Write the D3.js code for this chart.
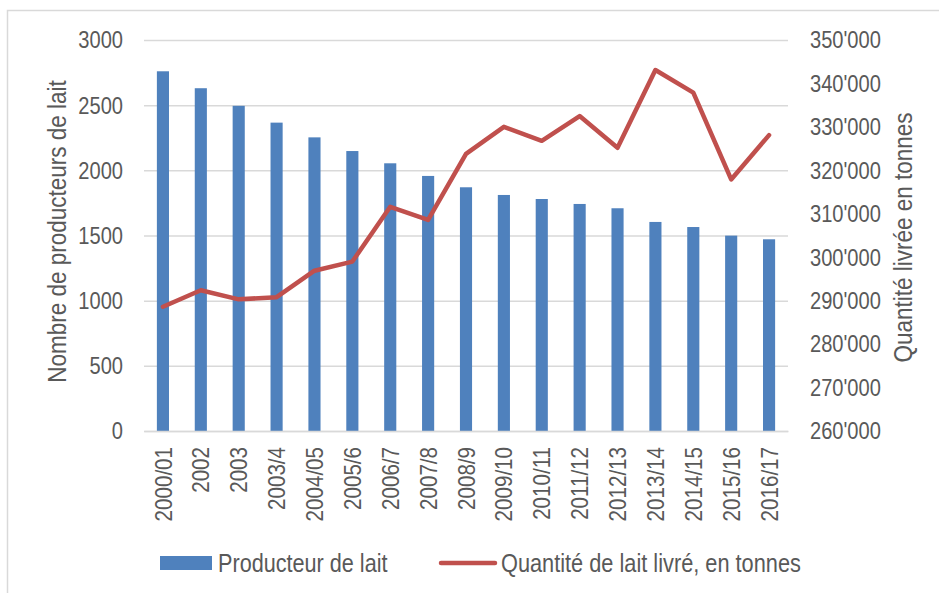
<!DOCTYPE html>
<html><head><meta charset="utf-8">
<script src="https://cdnjs.cloudflare.com/ajax/libs/d3/7.8.5/d3.min.js"></script>
<style>
body{margin:0;background:#fff;}
text{font-family:"Liberation Sans Narrow","Arial Narrow","Liberation Sans",Arial,sans-serif;fill:#595959;}
</style></head>
<body><svg id="chart" width="939" height="593"></svg>
<script>
const categories = ["2000/01","2002","2003","2003/4","2004/05","2005/6","2006/7","2007/8","2008/9","2009/10","2010/11","2011/12","2012/13","2013/14","2014/15","2015/16","2016/17"];
const producers = [2760,2630,2495,2366,2253,2148,2054,1957,1870,1811,1780,1742,1709,1604,1565,1499,1471];
const quantity = [288600,292400,290300,290800,296900,299000,311600,308600,323800,330000,326800,332500,325200,343100,337900,317900,328100];
const leftTicks = [0,500,1000,1500,2000,2500,3000];
const rightTicks = [260000,270000,280000,290000,300000,310000,320000,330000,340000,350000];
const seriesNames = ["Producteur de lait","Quantité de lait livré, en tonnes"];
const leftTitle = "Nombre de producteurs de lait";
const rightTitle = "Quantité livrée en tonnes";

const svg = d3.select("#chart");
const m = {left:144, right:788, top:40, bottom:431};
const fs = 24.5;

function condense(sel, k){
  sel.each(function(){
    const len = this.getComputedTextLength();
    if (len > 0) d3.select(this).attr("textLength", len*k).attr("lengthAdjust","spacingAndGlyphs");
  });
}

svg.append("rect").attr("x",7.5).attr("y",10.5).attr("width",1000).attr("height",1000)
  .attr("fill","none").attr("stroke","#D9D9D9").attr("stroke-width",1.5);

const x = d3.scaleBand().domain(categories).range([m.left,m.right]).paddingInner(0.68).paddingOuter(0.34);
const yL = d3.scaleLinear().domain([0,3000]).range([m.bottom,m.top]);
const yR = d3.scaleLinear().domain([260000,350000]).range([m.bottom,m.top]);

// gridlines
const gGrid = svg.append("g").attr("transform",`translate(${m.left},0)`)
  .call(d3.axisLeft(yL).tickValues(leftTicks).tickSize(-(m.right-m.left)).tickFormat(""));
gGrid.select(".domain").remove();
gGrid.selectAll("line").attr("stroke","#D9D9D9").attr("stroke-width",1.5);

// bars
svg.append("g").selectAll("rect").data(producers).join("rect")
  .attr("x",(d,i)=>x(categories[i])).attr("width",x.bandwidth())
  .attr("y",d=>yL(d)).attr("height",d=>yL(0)-yL(d)).attr("fill","#4F81BD");

// bottom axis
const gx = svg.append("g").attr("transform",`translate(0,${m.bottom})`)
  .call(d3.axisBottom(x).tickSize(0).tickPadding(0));
gx.select(".domain").attr("stroke","#D9D9D9").attr("stroke-width",1.5);
gx.selectAll("text").attr("font-size",fs).attr("fill","#595959")
  .attr("transform","rotate(-90)").attr("text-anchor","end")
  .attr("x",-16).attr("y",0).attr("dy","0.35em");
condense(gx.selectAll("text"), 0.84);

// left axis
const gl = svg.append("g").attr("transform",`translate(${m.left},0)`)
  .call(d3.axisLeft(yL).tickValues(leftTicks).tickSize(0).tickPadding(21).tickFormat(d3.format("d")));
gl.select(".domain").remove();
gl.selectAll("text").attr("font-size",fs).attr("fill","#595959");
condense(gl.selectAll("text"), 0.82);

// right axis
const fmtR = d => d3.format("d")(d/1000) + "'000";
const gr = svg.append("g").attr("transform",`translate(${m.right},0)`)
  .call(d3.axisRight(yR).tickValues(rightTicks).tickSize(0).tickPadding(22).tickFormat(fmtR));
gr.select(".domain").remove();
gr.selectAll("text").attr("font-size",fs).attr("fill","#595959");
condense(gr.selectAll("text"), 0.82);

// line
const line = d3.line().x((d,i)=>x(categories[i])+x.bandwidth()/2).y(d=>yR(d));
svg.append("path").datum(quantity).attr("d",line).attr("fill","none")
  .attr("stroke","#C0504D").attr("stroke-width",4.5).attr("stroke-linejoin","round").attr("stroke-linecap","round");

// axis titles
const tL = svg.append("text").attr("transform",`translate(66,${(m.top+m.bottom)/2-4}) rotate(-90)`)
  .attr("text-anchor","middle").attr("font-size",fs+0.5).text(leftTitle);
const tR = svg.append("text").attr("transform",`translate(912,${(m.top+m.bottom)/2+2}) rotate(-90)`)
  .attr("text-anchor","middle").attr("font-size",fs+0.5).text(rightTitle);
condense(tL, 0.9);
condense(tR, 0.9);

// legend
const ly = 563;
svg.append("rect").attr("x",160).attr("y",ly-7).attr("width",52).attr("height",14).attr("fill","#4F81BD");
const l1 = svg.append("text").attr("x",218).attr("y",ly).attr("dy","0.35em").attr("font-size",fs+0.5).text(seriesNames[0]);
svg.append("line").attr("x1",441).attr("x2",495).attr("y1",ly).attr("y2",ly)
  .attr("stroke","#C0504D").attr("stroke-width",4.5).attr("stroke-linecap","round");
const l2 = svg.append("text").attr("x",501).attr("y",ly).attr("dy","0.35em").attr("font-size",fs+0.5).text(seriesNames[1]);
condense(l1, 0.865);
condense(l2, 0.87);
</script></body></html>
